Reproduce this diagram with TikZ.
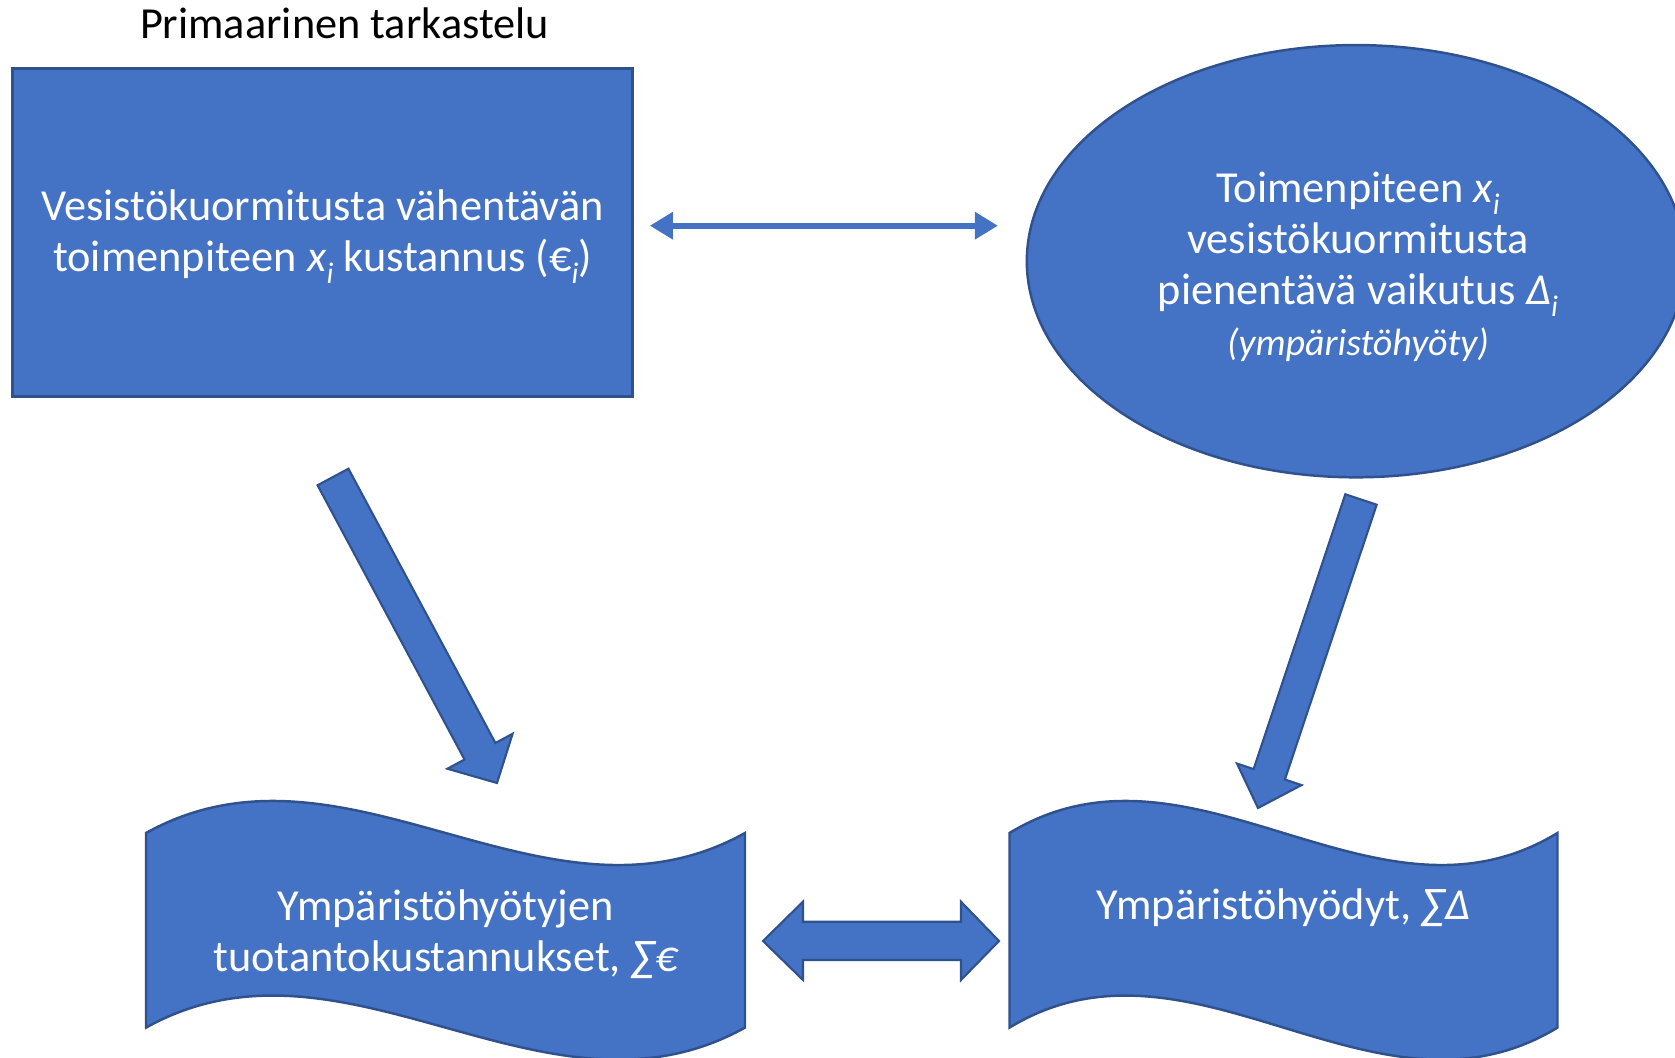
\documentclass[tikz,border=0pt]{standalone}
\usepackage{fontspec}
\setmainfont{Carlito}
\usetikzlibrary{shapes.geometric,arrows.meta,calc}
\definecolor{fillblue}{HTML}{4472C4}
\definecolor{edgeblue}{HTML}{2F528F}
\newcommand\mysub[1]{\raisebox{-0.55ex}{\fontsize{8.5}{9}\selectfont\itshape #1}}
\tikzset{
  boxshape/.style={draw=edgeblue, fill=fillblue, line width=0.7pt},
  wtext/.style={text=white, font=\fontsize{12.6}{14.5}\selectfont, align=center, inner sep=0pt},
  blockarrow/.style={draw=edgeblue, fill=fillblue, line width=0.6pt, line join=miter},
  thinarrow/.style={draw=fillblue, line width=1.7pt,
    arrows={Triangle[length=0.23cm,width=0.26cm]-Triangle[length=0.23cm,width=0.26cm]}},
}
% single block arrow: #1 tail, #2 tip, #3 half shaft width, #4 half head width, #5 head length
\newcommand\myblockarrow[5]{%
  \draw[blockarrow]
    ($(#1)!#3!90:(#2)$) --
    ($($(#2)!#5!(#1)$)!#3!90:(#2)$) --
    ($($(#2)!#5!(#1)$)!#4!90:(#2)$) --
    (#2) --
    ($($(#2)!#5!(#1)$)!#4!-90:(#2)$) --
    ($($(#2)!#5!(#1)$)!#3!-90:(#2)$) --
    ($(#1)!#3!-90:(#2)$) -- cycle;}
\begin{document}
\begin{tikzpicture}[x=0.01cm,y=-0.01cm]
\useasboundingbox (0,0) rectangle (1675,1058);
\clip (0,0) rectangle (1675,1058);

% title
\node[font=\fontsize{12.6}{14}\selectfont, inner sep=0pt] (title) at (344.5,23.5) {Primaarinen tarkastelu};

% rectangle
\node[boxshape, rectangle, minimum width=6.196cm, minimum height=3.28cm] (rect) at (322.6,232.4) {};
\node[wtext] (recttext) at ($(rect.center)+(0,4)$)
  {Vesistökuormitusta vähentävän\\toimenpiteen \textit{x}\mysub{i} kustannus (€\mysub{i})};

% ellipse
\node[boxshape, ellipse, minimum width=6.58cm, minimum height=4.32cm, inner sep=0pt] (ell) at (1356,261.2) {};
\node[wtext] (elltext) at (1358,267)
  {Toimenpiteen \textit{x}\mysub{i}\\
   vesistökuormitusta\\
   pienentävä vaikutus \textit{Δ}\mysub{i}\\
   {\fontsize{10.8}{14.5}\selectfont\itshape (ympäristöhyöty)}};

% thin double arrow between rectangle and ellipse
\coordinate (ta1) at ($(rect.east)+(16,-6.7)$);
\coordinate (ta2) at (998,225.7);
\draw[thinarrow] (ta1) -- (ta2);

% wave shapes
\draw[boxshape] (146,833) .. controls (345.7,722) and (545.3,944) .. (745,833)
  -- (745,1027.6) .. controls (545.3,1138.6) and (345.7,916.6) .. (146,1027.6) -- cycle;
\node[wtext] (wave1) at (445.5,934)
  {Ympäristöhyötyjen\\tuotantokustannukset, {\itshape ∑€}};

\draw[boxshape] (1009.5,833) .. controls (1192.2,722) and (1374.8,944) .. (1557.5,833)
  -- (1557.5,1027.6) .. controls (1374.8,1138.6) and (1192.2,916.6) .. (1009.5,1027.6) -- cycle;
\node[wtext] (wave2) at (1283.5,908) {Ympäristöhyödyt, {\itshape ∑Δ}};

% block arrows down
\coordinate (la1) at (333,477);
\coordinate (la2) at (497,783);
\myblockarrow{la1}{la2}{0.175cm}{0.37cm}{0.36cm}

\coordinate (ra1) at (1361,499.5);
\coordinate (ra2) at (1258,808);
\myblockarrow{ra1}{ra2}{0.165cm}{0.34cm}{0.355cm}

% bottom double block arrow
\coordinate (da1) at (763,941);
\coordinate (da2) at (999,941);
\draw[blockarrow] (da1) -- ($(da1)+(40,-39.3)$) -- ($(da1)+(40,-19.3)$)
  -- ($(da2)+(-38,-19.3)$) -- ($(da2)+(-38,-39.3)$) -- (da2)
  -- ($(da2)+(-38,39)$) -- ($(da2)+(-38,19)$)
  -- ($(da1)+(40,19)$) -- ($(da1)+(40,39)$) -- cycle;
\end{tikzpicture}
\end{document}
